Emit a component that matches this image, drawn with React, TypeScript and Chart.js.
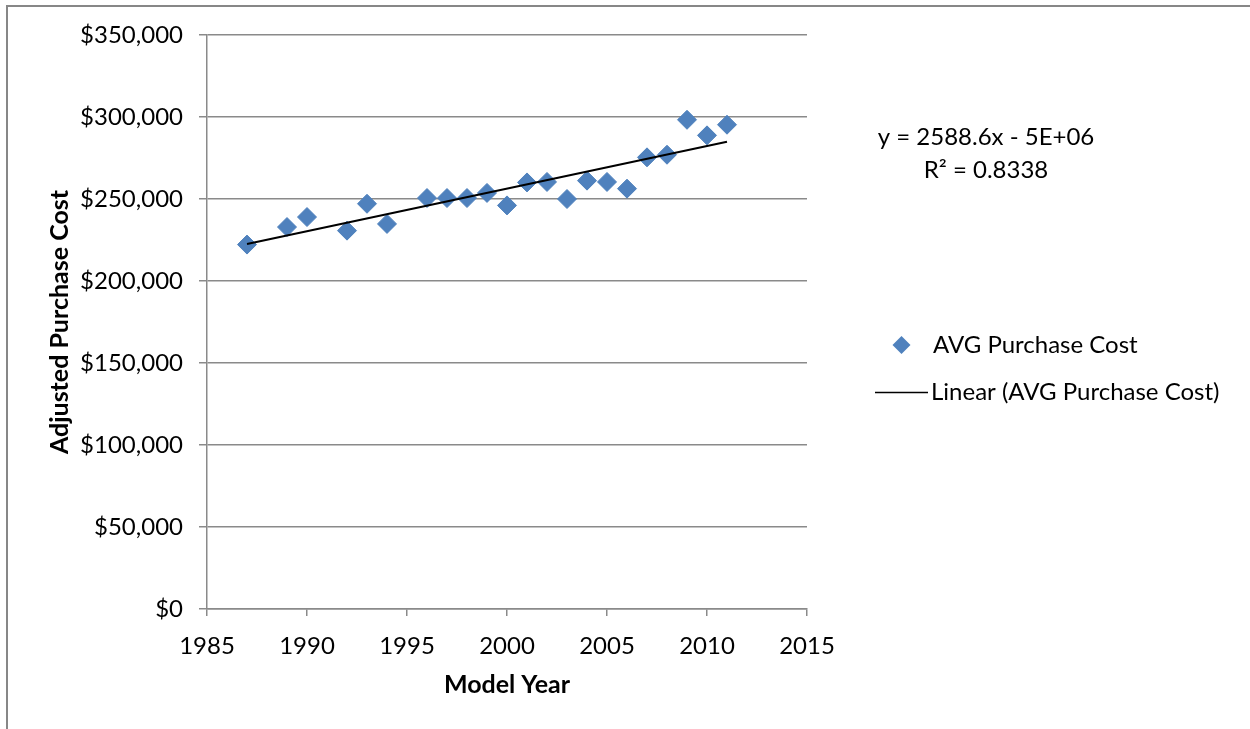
import React, { useEffect, useRef } from 'react';
import { Chart, registerables } from 'chart.js';

Chart.register(...registerables);

// ---- data ----
const modelYears = [1987, 1989, 1990, 1992, 1993, 1994, 1996, 1997, 1998, 1999, 2000, 2001, 2002, 2003, 2004, 2005, 2006, 2007, 2008, 2009, 2010, 2011];
const avgPurchaseCost = [222200, 232900, 239000, 230700, 247100, 234800, 250600, 250600, 250600, 253700, 246100, 260100, 260400, 250000, 261200, 260400, 256300, 275400, 277000, 298300, 288800, 295300];
const xTickValues = [1985, 1990, 1995, 2000, 2005, 2010, 2015];
const yTickValues = [0, 50000, 100000, 150000, 200000, 250000, 300000, 350000];
const seriesLabel = 'AVG Purchase Cost';
const trendLabel = 'Linear (AVG Purchase Cost)';
const equationLines = ['y = 2588.6x - 5E+06', 'R² = 0.8338'];
const xTitle = 'Model Year';
const yTitle = 'Adjusted Purchase Cost';

const FONT = 'Lato';
const GRID = '#8a8a8a';
const BLUE = '#4F81BD';

function linearFit(xs: number[], ys: number[]) {
  const n = xs.length;
  const mx = xs.reduce((a, b) => a + b, 0) / n;
  const my = ys.reduce((a, b) => a + b, 0) / n;
  let sxy = 0, sxx = 0;
  for (let i = 0; i < n; i++) {
    sxy += (xs[i] - mx) * (ys[i] - my);
    sxx += (xs[i] - mx) * (xs[i] - mx);
  }
  const b = sxy / sxx;
  return { a: my - b * mx, b };
}

export default function App() {
  const ref = useRef<HTMLCanvasElement | null>(null);

  useEffect(() => {
    if (!ref.current) return;
    const fit = linearFit(modelYears, avgPurchaseCost);
    const x0 = modelYears[0];
    const x1 = modelYears[modelYears.length - 1];

    const overlay = {
      id: 'overlay',
      afterDraw(chart: any) {
        const ctx = chart.ctx as CanvasRenderingContext2D;
        ctx.save();
        // outer frame
        ctx.strokeStyle = '#878787';
        ctx.lineWidth = 2;
        ctx.beginPath();
        ctx.moveTo(7, 735);
        ctx.lineTo(7, 6);
        ctx.lineTo(1255, 6);
        ctx.stroke();

        ctx.fillStyle = '#000';
        ctx.font = `24px ${FONT}`;
        ctx.textBaseline = 'middle';
        ctx.textAlign = 'center';
        ctx.fillText(equationLines[0], 986, 137);
        ctx.fillText(equationLines[1], 986, 170);

        // legend
        ctx.textAlign = 'left';
        ctx.fillStyle = BLUE;
        ctx.beginPath();
        const cx = 901.5, cy = 345, r = 9;
        ctx.moveTo(cx - r, cy);
        ctx.lineTo(cx, cy - r);
        ctx.lineTo(cx + r, cy);
        ctx.lineTo(cx, cy + r);
        ctx.closePath();
        ctx.fill();
        ctx.fillStyle = '#000';
        ctx.fillText(seriesLabel, 933, 345);
        ctx.strokeStyle = '#000';
        ctx.lineWidth = 1.5;
        ctx.beginPath();
        ctx.moveTo(875, 392.5);
        ctx.lineTo(928, 392.5);
        ctx.stroke();
        ctx.fillText(trendLabel, 931, 392);
        ctx.restore();
      },
    };

    const chart = new Chart(ref.current, {
      type: 'scatter',
      data: {
        datasets: [
          {
            label: seriesLabel,
            data: modelYears.map((x, i) => ({ x, y: avgPurchaseCost[i] })),
            pointStyle: 'rectRot',
            pointRadius: 9.5,
            backgroundColor: BLUE,
            borderColor: BLUE,
            borderWidth: 1,
            order: 2,
          },
          {
            type: 'line',
            label: trendLabel,
            data: [
              { x: x0, y: fit.a + fit.b * x0 },
              { x: x1, y: fit.a + fit.b * x1 },
            ],
            borderColor: '#000',
            borderWidth: 2,
            pointRadius: 0,
            showLine: true,
            fill: false,
            order: 1,
          } as any,
        ],
      },
      options: {
        animation: false,
        responsive: false,
        events: [],
        layout: { padding: { left: 0, top: 35, right: 443, bottom: 0 } },
        plugins: {
          legend: { display: false },
          tooltip: { enabled: false },
        },
        scales: {
          x: {
            type: 'linear',
            min: 1985,
            max: 2015,
            afterFit(scale: any) { scale.height = 120; },
            afterBuildTicks(scale: any) { scale.ticks = xTickValues.map((v) => ({ value: v })); },
            grid: { drawOnChartArea: false, drawTicks: true, tickLength: 7, color: GRID, lineWidth: 1.5 },
            border: { color: GRID, width: 1.5 },
            ticks: { font: { family: FONT, size: 24 }, color: '#000', padding: 16, maxRotation: 0, callback: (v: any) => String(v) },
            title: { display: true, text: xTitle, color: '#000', font: { family: FONT, size: 25, weight: 'bold' }, padding: { top: 0, bottom: 29 } },
          },
          y: {
            type: 'linear',
            min: 0,
            max: 350000,
            afterFit(scale: any) { scale.width = 207; },
            afterBuildTicks(scale: any) { scale.ticks = yTickValues.map((v) => ({ value: v })); },
            grid: { drawOnChartArea: true, drawTicks: true, tickLength: 8, color: GRID, lineWidth: 1.5 },
            border: { color: GRID, width: 1.5 },
            ticks: {
              font: { family: FONT, size: 24 },
              color: '#000',
              padding: 16,
              callback: (v: any) => '$' + Number(v).toLocaleString('en-US'),
            },
            title: { display: true, text: yTitle, color: '#000', font: { family: FONT, size: 25, weight: 'bold' }, padding: { top: 45, bottom: 0 } },
          },
        },
      },
      plugins: [overlay],
    } as any);

    return () => chart.destroy();
  }, []);

  return (
    <div style={{ position: 'fixed', left: 0, top: 0, width: 1250, height: 729, background: '#fff' }}>
      <canvas ref={ref} width={1250} height={729} style={{ display: 'block' }} />
    </div>
  );
}
